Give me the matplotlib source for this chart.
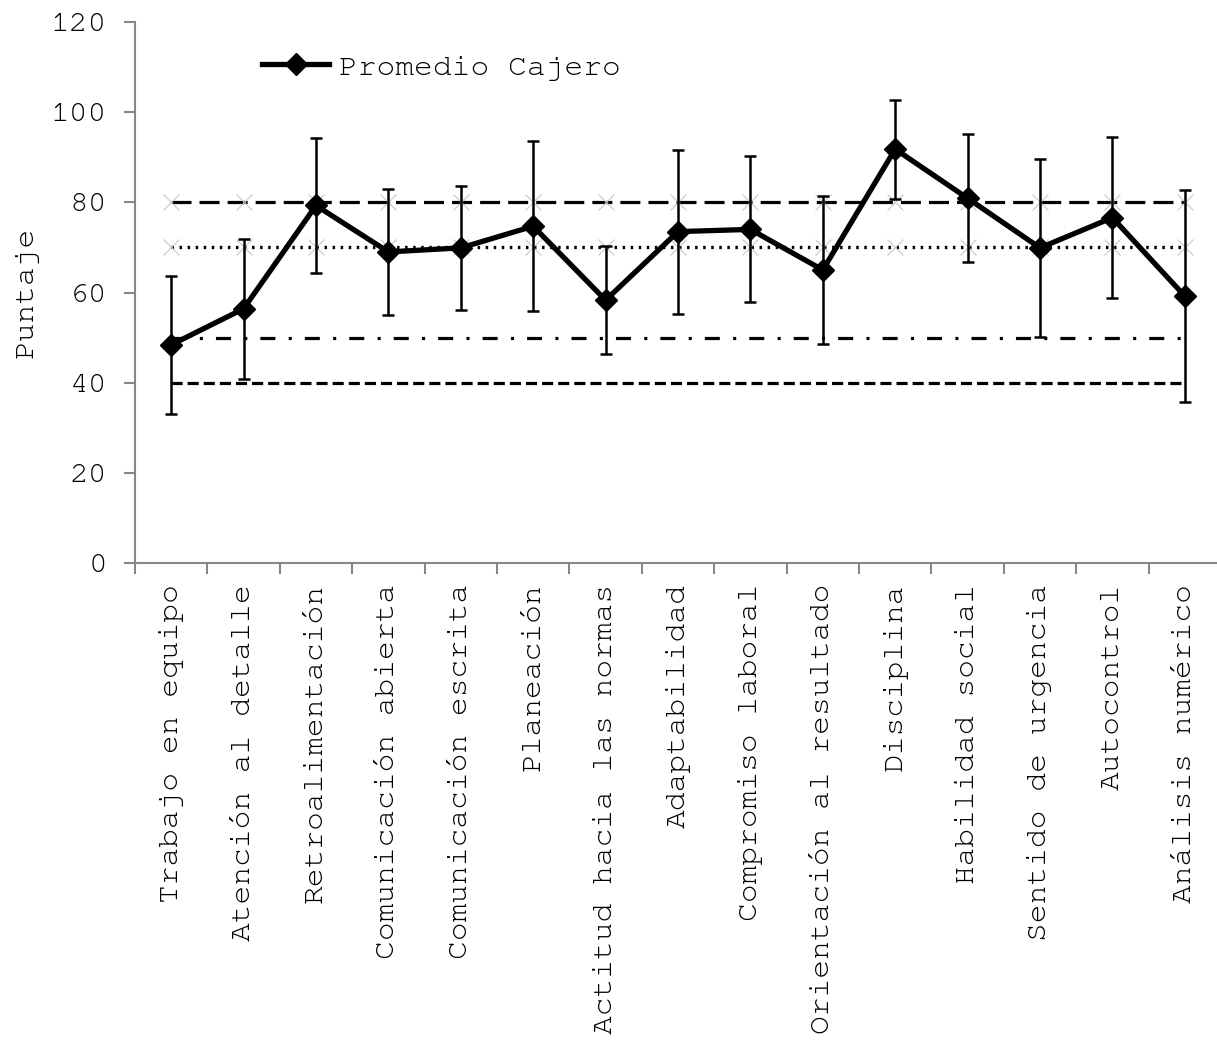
import matplotlib
matplotlib.use("Agg")
import matplotlib.pyplot as plt
import numpy as np
import logging
logging.getLogger('matplotlib.font_manager').setLevel(logging.ERROR)

categories = ["Trabajo en equipo", "Atención al detalle", "Retroalimentación",
              "Comunicación abierta", "Comunicación escrita", "Planeación",
              "Actitud hacia las normas", "Adaptabilidad", "Compromiso laboral",
              "Orientación al resultado", "Disciplina", "Habilidad social",
              "Sentido de urgencia", "Autocontrol", "Análisis numérico"]
promedio = [48.4, 56.4, 79.3, 69.0, 69.9, 74.7, 58.3, 73.5, 74.0, 65.0,
            91.8, 80.9, 69.9, 76.6, 59.2]
desv = [15.3, 15.5, 14.9, 13.9, 13.8, 18.9, 12.0, 18.2, 16.2, 16.5,
        11.0, 14.2, 19.8, 17.8, 23.5]
ref_80 = 80
ref_70 = 70
ref_50 = 50
ref_40 = 40
yticks = [0, 20, 40, 60, 80, 100, 120]

plt.rcParams['font.family'] = ['Courier New', 'Nimbus Mono PS', 'FreeMono',
                               'Liberation Mono', 'DejaVu Sans Mono']
plt.rcParams['lines.scale_dashes'] = False
FS = 22.5
W, H = 1217, 1044
fig = plt.figure(figsize=(W / 100, H / 100), dpi=100)
left, right_px, bottom_px, top_px = 135, 1221, 563, 22
ax = fig.add_axes([left / W, 1 - bottom_px / H, (right_px - left) / W, (bottom_px - top_px) / H])

x = np.arange(len(categories)) + 0.5
n = len(categories)

# reference lines
ax.plot(x, [ref_80] * n, color='black', lw=2.3, linestyle=(0, (14.4, 5.8)),
        marker='x', markersize=11, markeredgecolor='#c8c8c8', markeredgewidth=0.8, zorder=2)
ax.plot(x, [ref_70] * n, color='black', lw=2.4, linestyle=(0, (1.8, 4.0)),
        marker='x', markersize=11, markeredgecolor='#c8c8c8', markeredgewidth=0.8, zorder=2)
ax.plot(x, [ref_50] * n, color='black', lw=2.3, linestyle=(0, (10.8, 9.6, 2.2, 9.4)), zorder=2)
ax.plot(x, [ref_40] * n, color='black', lw=2.3, linestyle=(0, (8.0, 3.6)), zorder=2)

# error bars
ax.errorbar(x, promedio, yerr=desv, fmt='none', ecolor='black', elinewidth=1.8,
            capsize=4.5, capthick=1.8, zorder=3)
ax.plot(x, promedio, color='black', lw=3.8, marker='D', markersize=11,
        label='Promedio Cajero', zorder=4, solid_joinstyle='round')

ax.set_xlim(0, n)
ax.set_ylim(0, 120)
ax.set_yticks(yticks)
ax.set_yticklabels([str(v) for v in yticks], fontsize=FS)
ax.set_xticks(np.arange(n + 1))
ax.set_xticklabels([])
ax.set_xticks(x, minor=True)
ax.set_xticklabels(categories, minor=True, rotation=90, fontsize=FS, va='top', ha='center')
ax.tick_params(axis='x', which='minor', length=0, pad=15)
ax.tick_params(axis='x', which='major', length=8, width=1.5, color='#868686', direction='out')
ax.tick_params(axis='y', length=8, width=1.5, color='#868686', direction='out', pad=12)

for s in ['top', 'right']:
    ax.spines[s].set_visible(False)
for s in ['left', 'bottom']:
    ax.spines[s].set_color('#868686')
    ax.spines[s].set_linewidth(1.5)

ax.set_ylabel('Puntaje', fontsize=FS)
ax.yaxis.set_label_coords((39 - left) / (right_px - left), 0.5)

leg = ax.legend(loc='center left', bbox_to_anchor=(262 / W, 1 - 67 / H),
                bbox_transform=fig.transFigure, frameon=False, fontsize=FS,
                borderpad=0, borderaxespad=0, handlelength=2.15, handletextpad=0.3,
                numpoints=1)

fig.savefig('out.png', dpi=100)
